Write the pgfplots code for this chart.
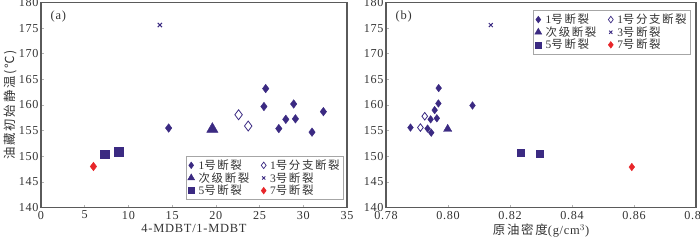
\documentclass[border=0pt]{standalone}
\usepackage{pgfplots}
\pgfplotsset{compat=1.18}
\usepackage{fontspec}
\setmainfont{Liberation Serif}[LetterSpace=6]
\newfontfamily\cjk{Noto Sans CJK SC}[LetterSpace=14]
\definecolor{pur}{HTML}{3B2A82}
\definecolor{rd}{HTML}{E8262A}
\definecolor{ax}{HTML}{5A5A5A}
\pgfplotsset{
  myaxis/.style={
    scale only axis, anchor=south west, height=205bp,
    ymin=140, ymax=180, ytick={140,145,...,180},
    axis line style={ax, line width=1.1pt},
    tick style={gray!60, line width=0.5pt}, major tick length=3pt,
    tick align=inside, xtick pos=bottom, ytick pos=left,
    /pgf/number format/assume math mode=true,
    tick label style={font=\fontsize{12.2}{13}\selectfont, text=black!80},
    yticklabel style={xshift=1pt},
    label style={font=\fontsize{12.5}{14}\selectfont, text=black!80},
    legend style={draw=gray!70, line width=0.5pt, font=\fontsize{11.5}{12}\selectfont, text=black!80,
      inner sep=1.5pt, row sep=-2.5pt,
      /tikz/every odd column/.append style={column sep=2pt},
      /tikz/every even column/.append style={column sep=10pt}},
    legend columns=2, legend cell align=left,
    clip=false,
  },
  s1/.style={only marks, mark=diamond*, mark size=4.3pt, color=pur},
  s2/.style={only marks, mark=diamond, mark size=5pt, color=pur, mark options={line width=0.8pt, fill=white}},
  s3/.style={only marks, mark=triangle*, mark size=6.5pt, color=pur},
  s4/.style={only marks, mark=x, mark size=3pt, color=pur, mark options={line width=1pt}},
  s5/.style={only marks, mark=square*, mark size=4.2pt, color=pur},
  s6/.style={only marks, mark=diamond*, mark size=4.3pt, color=rd},
}
\begin{document}
\begin{tikzpicture}
\path[use as bounding box] (0,0) rectangle (700bp,241bp);
\begin{axis}[myaxis, at={(41bp,33.5bp)}, width=306bp,
  xmin=0, xmax=35, xtick={0,5,...,35},
  xlabel={4-MDBT/1-MDBT},
  ylabel={\cjk 油藏初始静温(℃)},
  xlabel style={yshift=2pt}, ylabel style={yshift=-5pt},
  legend style={at={(0.988,0.037)}, anchor=south east},
]
\addlegendimage{only marks, mark=diamond*, mark size=3.3pt, color=pur}
\addlegendentry{1{\cjk 号断裂}}
\addlegendimage{only marks, mark=diamond, mark size=3.3pt, color=pur, mark options={line width=0.7pt}}
\addlegendentry{1{\cjk 号分支断裂}}
\addlegendimage{only marks, mark=triangle*, mark size=4pt, color=pur}
\addlegendentry{{\cjk 次级断裂}}
\addlegendimage{only marks, mark=x, mark size=2.3pt, color=pur, mark options={line width=0.9pt}}
\addlegendentry{3{\cjk 号断裂}}
\addlegendimage{only marks, mark=square*, mark size=3pt, color=pur}
\addlegendentry{5{\cjk 号断裂}}
\addlegendimage{only marks, mark=diamond*, mark size=3.3pt, color=rd}
\addlegendentry{7{\cjk 号断裂}}
\addplot[s1, forget plot] coordinates {(14.6,155.5) (25.7,163.2) (25.5,159.7) (28.9,160.2) (28.0,157.2) (29.1,157.3) (27.2,155.4) (31.0,154.7) (32.3,158.7)};
\addplot[s2, forget plot] coordinates {(22.6,158.1) (23.7,155.9)};
\addplot[s3, forget plot] coordinates {(19.6,155.3)};
\addplot[s4, forget plot] coordinates {(13.6,175.6)};
\addplot[s5, forget plot] coordinates {(7.3,150.4) (8.9,150.9)};
\addplot[s6, forget plot] coordinates {(6.0,148.0)};
\node[anchor=north west, font=\fontsize{12.5}{14}\selectfont, text=black!80] at (rel axis cs:0.02,0.975) {(a)};
\end{axis}
\begin{axis}[myaxis, at={(386bp,33.5bp)}, width=310bp,
  xmin=0.78, xmax=0.88, xtick={0.78,0.80,...,0.88},
  xticklabel style={/pgf/number format/.cd, fixed, fixed zerofill, precision=2},
  xlabel={{\cjk 原油密度}(g/cm$^3$)},
  xlabel style={yshift=2pt},
  legend style={at={(0.982,0.962)}, anchor=north east},
]
\addlegendimage{only marks, mark=diamond*, mark size=3.3pt, color=pur}
\addlegendentry{1{\cjk 号断裂}}
\addlegendimage{only marks, mark=diamond, mark size=3.3pt, color=pur, mark options={line width=0.7pt}}
\addlegendentry{1{\cjk 号分支断裂}}
\addlegendimage{only marks, mark=triangle*, mark size=4pt, color=pur}
\addlegendentry{{\cjk 次级断裂}}
\addlegendimage{only marks, mark=x, mark size=2.3pt, color=pur, mark options={line width=0.9pt}}
\addlegendentry{3{\cjk 号断裂}}
\addlegendimage{only marks, mark=square*, mark size=3pt, color=pur}
\addlegendentry{5{\cjk 号断裂}}
\addlegendimage{only marks, mark=diamond*, mark size=3.3pt, color=rd}
\addlegendentry{7{\cjk 号断裂}}
\addplot[s1, mark size=3.8pt, forget plot] coordinates {(0.7879,155.6) (0.7934,155.4) (0.7946,154.6) (0.7944,157.2) (0.7957,159.0) (0.7964,157.4) (0.7969,160.3) (0.7970,163.3) (0.8079,159.9)};
\addplot[s2, mark size=3.8pt, forget plot] coordinates {(0.7925,157.8) (0.7911,155.6)};
\addplot[s3, mark size=4.8pt, forget plot] coordinates {(0.7999,155.3)};
\addplot[s4, mark size=2.8pt, forget plot] coordinates {(0.8138,175.6)};
\addplot[s5, mark size=3.6pt, forget plot] coordinates {(0.8234,150.7) (0.8296,150.5)};
\addplot[s6, mark size=3.8pt, forget plot] coordinates {(0.8593,147.9)};
\node[anchor=north west, font=\fontsize{12.5}{14}\selectfont, text=black!80] at (rel axis cs:0.02,0.975) {(b)};
\end{axis}
\end{tikzpicture}
\end{document}
